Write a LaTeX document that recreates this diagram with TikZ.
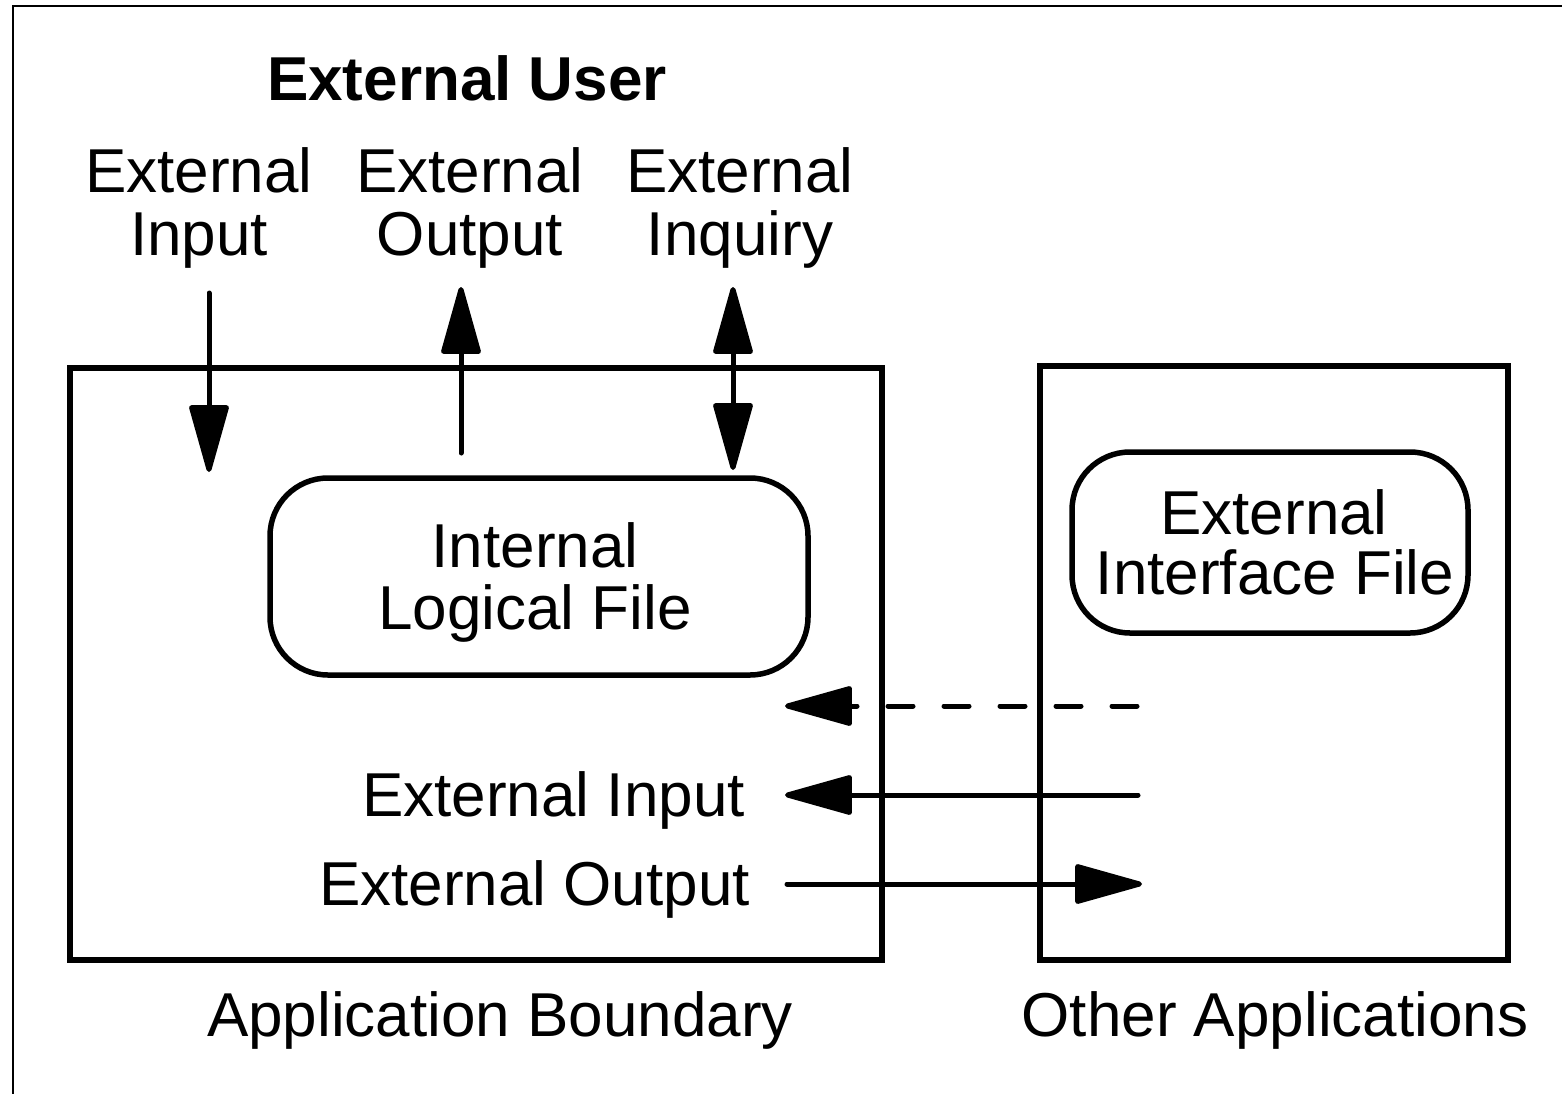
\documentclass[tikz,border=0pt]{standalone}
\usepackage{fontspec}
\setmainfont{Liberation Sans}
\usetikzlibrary{arrows.meta}
\begin{document}
\begin{tikzpicture}[x=1pt,y=-1pt,
  lbl/.style={font=\fontsize{62}{62}\selectfont, inner sep=0pt, anchor=base},
  boundary/.style={draw, line width=6pt, inner sep=0pt},
  store/.style={draw, line width=5.5pt, rounded corners=58pt, inner sep=0pt},
  flow/.style={line width=5pt, line cap=round, -{Triangle[length=74pt,width=40pt,round]}},
  biflow/.style={line width=5pt, {Triangle[length=74pt,width=40pt,round]}-{Triangle[length=74pt,width=40pt,round]}},
]
\useasboundingbox (0,0) rectangle (1562,1094);

% page frame (top and left edges)
\draw[line width=2.5pt] (1562,6) -- (13,6) -- (13,1094);

% application boundary and other applications
\node (app) [boundary, minimum width=812pt, minimum height=592pt] at (476,664) {};
\node (other) [boundary, minimum width=468pt, minimum height=594pt] at (1274,663) {};

% logical files
\node (ilf) [store, minimum width=538pt, minimum height=197pt] at (539,576.5) {};
\node (eif) [store, minimum width=396pt, minimum height=181pt] at (1270,542.5) {};

% labels
\node (user) [lbl, font=\fontsize{62}{62}\selectfont\bfseries] at (467,101) {External User};
\node (in1)  [lbl] at (199,193) {External};
\node (in2)  [lbl] at (199,255) {Input};
\node (out1) [lbl] at (470,193) {External};
\node (out2) [lbl] at (470,255) {Output};
\node (inq1) [lbl] at (740,193) {External};
\node (inq2) [lbl] at (740,255) {Inquiry};
\node (ilf1) [lbl] at (535,567) {Internal};
\node (ilf2) [lbl] at (535,629) {Logical File};
\node (eif1) [lbl] at (1274,534) {External};
\node (eif2) [lbl] at (1275,594) {Interface File};
\node (xin)  [lbl, anchor=base east] at (745,816) {External Input};
\node (xout) [lbl, anchor=base east] at (750,905) {External Output};
\node (appl) [lbl] at (500,1036) {Application Boundary};
\node (othl) [lbl] at (1275,1036) {Other Applications};

% flow end points
\coordinate (inS) at (209,293);  \coordinate (inE) at (209,472);
\coordinate (outS) at (461,453); \coordinate (outE) at (461,287);
\coordinate (inqA) at (733,287); \coordinate (inqB) at (733,470);
\coordinate (dS) at (1137,706);  \coordinate (dE) at (785,706);
\coordinate (eiS) at (1138,795); \coordinate (eiE) at (785,795);
\coordinate (eoS) at (787,884);  \coordinate (eoE) at (1142,884);

% flows
\draw[flow] (inS) -- (inE);
\draw[flow] (outS) -- (outE);
\draw[biflow] (inqA) -- (inqB);
\draw[flow, dash pattern=on 25pt off 31pt] (dS) -- (dE);
\draw[flow] (eiS) -- (eiE);
\draw[flow] (eoS) -- (eoE);
\end{tikzpicture}
\end{document}
